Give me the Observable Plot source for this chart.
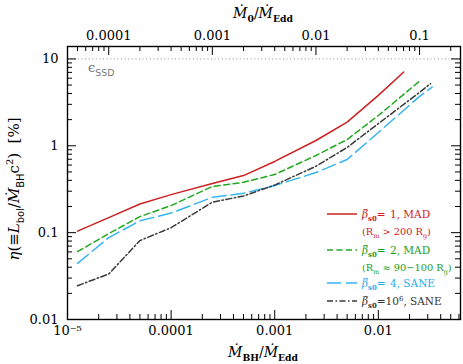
<!DOCTYPE html>
<html><head><meta charset="utf-8">
<script src="https://cdn.jsdelivr.net/npm/d3@7"></script>
<script src="https://cdn.jsdelivr.net/npm/@observablehq/plot@0.6"></script>
<style>body{margin:0;background:#fff} svg{display:block}</style>
</head><body><div id="chart"></div>
<script>
// ---- data ----
const xRed   = [1.25e-5, 2.5e-5, 5e-5, 1e-4, 2.5e-4, 5e-4, 1e-3, 2.5e-3, 5e-3, 1e-2, 1.76e-2];
const etaRed = [0.104, 0.149, 0.214, 0.274, 0.367, 0.454, 0.66, 1.15, 1.87, 3.8, 7.06];
const xGreen   = [1.25e-5, 2.5e-5, 5e-5, 1e-4, 2.5e-4, 5e-4, 1e-3, 2.5e-3, 5e-3, 1e-2, 2.55e-2];
const etaGreen = [0.0604, 0.0974, 0.153, 0.205, 0.34, 0.38, 0.467, 0.773, 1.18, 2.23, 5.66];
const xBlue   = [1.25e-5, 2.5e-5, 5e-5, 1e-4, 2.5e-4, 5e-4, 1e-3, 2.5e-3, 5e-3, 1e-2, 2.5e-2, 3.31e-2];
const etaBlue = [0.0443, 0.0875, 0.137, 0.168, 0.255, 0.284, 0.348, 0.492, 0.695, 1.42, 3.71, 4.74];
const xBlack   = [1.25e-5, 2.5e-5, 5e-5, 1e-4, 2.5e-4, 5e-4, 1e-3, 2.5e-3, 5e-3, 1e-2, 2.5e-2, 3.19e-2];
const etaBlack = [0.0245, 0.0334, 0.081, 0.114, 0.224, 0.264, 0.353, 0.581, 0.957, 1.80, 4.12, 5.19];

const epsSSD = 10; // dotted reference line (%)

const xTicks = [1e-5, 1e-4, 1e-3, 1e-2];
const xTickLabels = ["10\u207B\u2075", "0.0001", "0.001", "0.01"];
const yTicks = [0.01, 0.1, 1, 10];
const yTickLabels = ["0.01", "0.1", "1", "10"];
const topTicks = [1e-4, 1e-3, 1e-2, 1e-1];
const topTickLabels = ["0.0001", "0.001", "0.01", "0.1"];
const m0Ratio = 4; // top axis value = m0Ratio * bottom axis value

const xDomain = [1e-5, 0.0621];
const yDomain = [0.01, 13.9];

// ---- layout ----
const W = 463, H = 364;
const mL = 67, mR = 3, mT = 46, mB = 45;
const iW = W - mL - mR, iH = H - mT - mB;
const majLen = 9, minLen = 5;

function minors(majors, lo, hi) {
  const out = [];
  for (const m of [...majors, majors[0] / 10]) for (let k = 2; k <= 9; k++) {
    const v = m * k; if (v > lo && v < hi) out.push(v);
  }
  return out;
}
const xMin = minors([1e-5,1e-4,1e-3,1e-2], xDomain[0], xDomain[1]);
const yMin = minors([0.01,0.1,1,10], yDomain[0], yDomain[1]);
const topPos = topTicks.map(v => v / m0Ratio);
const topMinPos = minors([1e-5,1e-4,1e-3,1e-2,1e-1], xDomain[0]*m0Ratio, xDomain[1]*m0Ratio).map(v => v / m0Ratio);

const series = [
  {x: xRed, y: etaRed, stroke: "#cc2020", dash: null},
  {x: xGreen, y: etaGreen, stroke: "#20a820", dash: "6,3.5"},
  {x: xBlue, y: etaBlue, stroke: "#35b4f0", dash: "14,5"},
  {x: xBlack, y: etaBlack, stroke: "#3a3a3a", dash: "6,2.5,1.5,2.5"}
];

const lineMarks = series.map(s => Plot.line(s.x.map((x, i) => ({x, y: s.y[i]})),
  {x: "x", y: "y", stroke: s.stroke, strokeWidth: 1.5, strokeDasharray: s.dash}));

const plot = Plot.plot({
  width: W, height: H,
  marginLeft: mL, marginRight: mR, marginTop: mT, marginBottom: mB,
  x: {type: "log", domain: xDomain, axis: null},
  y: {type: "log", domain: yDomain, axis: null},
  style: {fontFamily: "DejaVu Serif", fontSize: "13px", background: "white", color: "black"},
  marks: [
    Plot.ruleY([epsSSD], {stroke: "#8a8a8a", strokeDasharray: "1,2.6", strokeWidth: 1}),
    ...lineMarks,
    // bottom ticks
    Plot.ruleX(xTicks.slice(1), {x: d => d, insetTop: iH - majLen, stroke: "black"}),
    Plot.ruleX(xMin, {x: d => d, insetTop: iH - minLen, stroke: "black"}),
    // top ticks (M0 axis)
    Plot.ruleX(topPos, {x: d => d, insetBottom: iH - majLen, stroke: "black"}),
    Plot.ruleX(topMinPos, {x: d => d, insetBottom: iH - minLen, stroke: "black"}),
    // left / right ticks
    Plot.ruleY(yTicks.slice(1), {y: d => d, insetRight: iW - majLen, stroke: "black"}),
    Plot.ruleY(yMin, {y: d => d, insetRight: iW - minLen, stroke: "black"}),
    Plot.ruleY(yTicks.slice(1), {y: d => d, insetLeft: iW - majLen, stroke: "black"}),
    Plot.ruleY(yMin, {y: d => d, insetLeft: iW - minLen, stroke: "black"}),
    // tick labels
    Plot.text(xTicks, {x: d => d, text: (d, i) => xTickLabels[i], frameAnchor: "bottom", lineAnchor: "top", dy: 6}),
    Plot.text(topTicks, {x: d => d / m0Ratio, text: (d, i) => topTickLabels[i], frameAnchor: "top", lineAnchor: "bottom", dy: -7}),
    Plot.text(yTicks, {y: d => d, text: (d, i) => yTickLabels[i], frameAnchor: "left", textAnchor: "end", dx: -9}),
    Plot.frame({stroke: "black", strokeWidth: 1.4})
  ]
});
document.getElementById("chart").appendChild(plot);

// ---- rich text (titles, annotation, legend) ----
const svg = d3.select(plot);
function rich(g, x, y, parts, base) {
  const t = g.append("text").attr("x", x).attr("y", y)
    .attr("font-family", base.family || "DejaVu Serif").attr("font-size", base.size)
    .attr("fill", base.fill || "black").attr("text-anchor", base.anchor || "start")
    .style("white-space", "pre");
  if (base.transform) t.attr("transform", base.transform);
  let off = 0;
  for (const p of parts) {
    const shift = p.sub ? base.size * 0.32 : p.sup ? -base.size * 0.42 : 0;
    const ts = t.append("tspan").text(p.t).attr("dy", shift - off);
    off = shift;
    if (p.sub || p.sup) ts.attr("font-size", base.size * (p.scale || 0.66));
    if (p.italic) ts.attr("font-style", "italic");
    if (p.bold) ts.attr("font-weight", "bold");
    if (p.family) ts.attr("font-family", p.family);
    if (p.x != null) ts.attr("x", p.x);
  }
  return t;
}
const g = svg.append("g");
// top title
rich(g, 263, 18, [
  {t: "\u1E40", italic: true}, {t: "0", sub: true, bold: true},
  {t: "/"}, {t: "\u1E40", italic: true}, {t: "Edd", sub: true, bold: true}
], {size: 14, anchor: "middle"});
// bottom title
rich(g, 263, 357, [
  {t: "\u1E40", italic: true}, {t: "BH", sub: true, bold: true},
  {t: "/"}, {t: "\u1E40", italic: true}, {t: "Edd", sub: true, bold: true}
], {size: 14, anchor: "middle"});
// y title
rich(g, 0, 0, [
  {t: "\u03B7", italic: true}, {t: "(\u2261"}, {t: "L", italic: true},
  {t: "bol", sub: true, family: "DejaVu Sans"}, {t: "/"}, {t: "\u1E40", italic: true},
  {t: "BH", sub: true, family: "DejaVu Sans"}, {t: "c"}, {t: "2", sup: true},
  {t: ")  [%]"}
], {size: 15, anchor: "middle", transform: "translate(19,189) rotate(-90)"});
// epsilon_SSD
rich(g, 88, 72, [{t: "\u03F5"}, {t: "SSD", sub: true, family: "DejaVu Sans", scale: 0.72}],
  {size: 13, fill: "#777"});

// legend
const leg = [
  {color: "#cc2020", dash: null, y: 214, num: "1, MAD", sub2: ["(R", "m", " > 200 R", "g", ")"]},
  {color: "#20a820", dash: "6,3.5", y: 250, num: "2, MAD", sub2: ["(R", "m", " \u2248 90\u2212100 R", "g", ")"]},
  {color: "#35b4f0", dash: "14,5", y: 283, num: "4, SANE", sub2: null},
  {color: "#3a3a3a", dash: "6,2.5,1.5,2.5", y: 301, num: null, sub2: null}
];
const textCol = ["#cc1a1a", "#1a9e1a", "#2aaaee", "#333"];
leg.forEach((l, i) => {
  const ln = g.append("line").attr("x1", 327).attr("x2", 357).attr("y1", l.y).attr("y2", l.y)
    .attr("stroke", l.color).attr("stroke-width", 1.5);
  if (l.dash) ln.attr("stroke-dasharray", l.dash);
  const parts = [{t: "\u03B2\u0305", italic: true}, {t: "s0", sub: true, bold: true}, {t: "="}];
  if (l.num) parts.push({t: l.num, x: 390});
  else parts.push({t: "10"}, {t: "6", sup: true}, {t: ", SANE"});
  rich(g, 362, l.y + 4, parts, {size: 10.5, fill: textCol[i]});
  if (l.sub2) rich(g, 362, l.y + 21, [
    {t: l.sub2[0]}, {t: l.sub2[1], sub: true}, {t: l.sub2[2]}, {t: l.sub2[3], sub: true}, {t: l.sub2[4]}
  ], {size: 9.8, fill: textCol[i]});
});
</script>
</body></html>
